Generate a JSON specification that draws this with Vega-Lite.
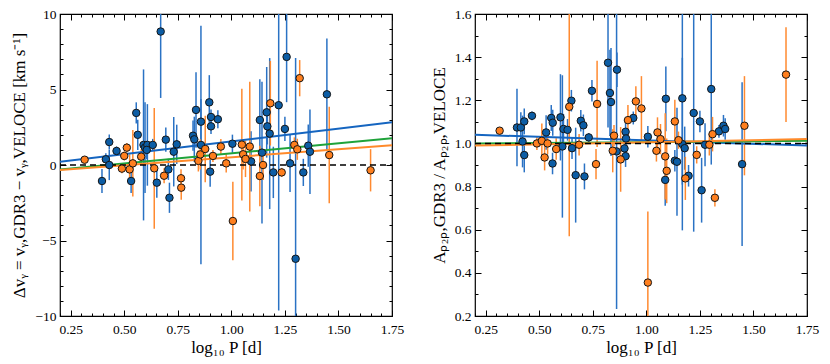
{
  "$schema": "https://vega.github.io/schema/vega-lite/v6.json",
  "padding": {"left": 10, "top": 6, "right": 5, "bottom": 5},
  "background": "white",
  "config": {
    "font": "Liberation Serif",
    "view": {"stroke": "black", "strokeWidth": 1.2},
    "axis": {
      "grid": false, "domain": false, "tickColor": "black", "tickWidth": 1,
      "labelColor": "black", "titleColor": "black",
      "labelFont": "Liberation Serif", "labelFontSize": 13.5,
      "titleFont": "Liberation Serif", "titleFontSize": 17, "titleFontWeight": "normal",
      "labelFlush": false, "labelOverlap": false
    }
  },
  "datasets": {
    "leftPts": [
      {"p":0.396,"v":-1.06,"lo":-1.86,"hi":-0.26,"g":"b"},
      {"p":0.414,"v":0.38,"lo":-0.02,"hi":0.78,"g":"b"},
      {"p":0.43,"v":1.52,"lo":1.02,"hi":2.02,"g":"b"},
      {"p":0.43,"v":0.0,"lo":-1.0,"hi":1.0,"g":"b"},
      {"p":0.464,"v":0.93,"lo":0.63,"hi":1.23,"g":"b"},
      {"p":0.532,"v":-1.06,"lo":-1.86,"hi":-0.26,"g":"b"},
      {"p":0.556,"v":3.45,"lo":2.75,"hi":4.15,"g":"b"},
      {"p":0.563,"v":2.0,"lo":1.0,"hi":3.0,"g":"b"},
      {"p":0.59,"v":1.33,"lo":-3.67,"hi":6.33,"g":"b"},
      {"p":0.597,"v":1.15,"lo":-1.85,"hi":4.15,"g":"b"},
      {"p":0.608,"v":1.33,"lo":-1.37,"hi":4.03,"g":"b"},
      {"p":0.605,"v":1.0,"lo":0.4,"hi":1.6,"g":"b"},
      {"p":0.633,"v":1.33,"lo":0.93,"hi":1.73,"g":"b"},
      {"p":0.652,"v":-1.17,"lo":-2.17,"hi":-0.17,"g":"b"},
      {"p":0.67,"v":8.84,"lo":4.44,"hi":13.24,"g":"b"},
      {"p":0.694,"v":1.68,"lo":0.88,"hi":2.48,"g":"b"},
      {"p":0.706,"v":-0.29,"lo":-0.99,"hi":0.41,"g":"b"},
      {"p":0.711,"v":-2.17,"lo":-3.17,"hi":-1.17,"g":"b"},
      {"p":0.731,"v":0.88,"lo":-1.42,"hi":3.18,"g":"b"},
      {"p":0.745,"v":1.37,"lo":0.07,"hi":2.67,"g":"b"},
      {"p":0.821,"v":1.94,"lo":0.94,"hi":2.94,"g":"b"},
      {"p":0.827,"v":1.7,"lo":0.2,"hi":3.2,"g":"b"},
      {"p":0.835,"v":3.65,"lo":1.15,"hi":6.15,"g":"b"},
      {"p":0.858,"v":2.87,"lo":1.37,"hi":4.37,"g":"b"},
      {"p":0.858,"v":1.33,"lo":-6.57,"hi":9.23,"g":"b"},
      {"p":0.897,"v":4.15,"lo":2.35,"hi":5.95,"g":"b"},
      {"p":0.905,"v":3.18,"lo":2.68,"hi":3.68,"g":"b"},
      {"p":0.905,"v":2.56,"lo":2.06,"hi":3.06,"g":"b"},
      {"p":0.901,"v":-0.44,"lo":-1.44,"hi":0.56,"g":"b"},
      {"p":0.937,"v":3.03,"lo":2.43,"hi":3.63,"g":"b"},
      {"p":1.005,"v":1.41,"lo":0.81,"hi":2.01,"g":"b"},
      {"p":1.092,"v":0.24,"lo":-1.76,"hi":2.24,"g":"b"},
      {"p":1.133,"v":2.98,"lo":0.28,"hi":5.68,"g":"b"},
      {"p":1.143,"v":0.82,"lo":-3.88,"hi":5.52,"g":"b"},
      {"p":1.165,"v":3.49,"lo":0.49,"hi":6.49,"g":"b"},
      {"p":1.168,"v":2.56,"lo":1.36,"hi":3.76,"g":"b"},
      {"p":1.179,"v":2.08,"lo":-2.92,"hi":7.08,"g":"b"},
      {"p":1.196,"v":-0.49,"lo":-2.19,"hi":1.21,"g":"b"},
      {"p":1.221,"v":3.96,"lo":-9.64,"hi":17.56,"g":"b"},
      {"p":1.25,"v":2.39,"lo":1.59,"hi":3.19,"g":"b"},
      {"p":1.258,"v":7.16,"lo":4.16,"hi":10.16,"g":"b"},
      {"p":1.274,"v":0.11,"lo":-1.79,"hi":2.01,"g":"b"},
      {"p":1.3,"v":-6.21,"lo":-19.51,"hi":7.09,"g":"b"},
      {"p":1.336,"v":-0.49,"lo":-1.39,"hi":0.41,"g":"b"},
      {"p":1.359,"v":1.28,"lo":-0.12,"hi":2.68,"g":"b"},
      {"p":1.367,"v":0.88,"lo":-1.92,"hi":3.68,"g":"b"},
      {"p":1.446,"v":4.68,"lo":0.98,"hi":8.38,"g":"b"},
      {"p":0.315,"v":0.35,"lo":0.25,"hi":0.45,"g":"o"},
      {"p":0.489,"v":-0.24,"lo":-0.54,"hi":0.06,"g":"o"},
      {"p":0.5,"v":0.6,"lo":0.3,"hi":0.9,"g":"o"},
      {"p":0.512,"v":1.15,"lo":0.85,"hi":1.45,"g":"o"},
      {"p":0.525,"v":-0.29,"lo":-1.29,"hi":0.71,"g":"o"},
      {"p":0.54,"v":0.11,"lo":-2.09,"hi":2.31,"g":"o"},
      {"p":0.579,"v":0.55,"lo":0.05,"hi":1.05,"g":"o"},
      {"p":0.64,"v":-0.22,"lo":-4.22,"hi":3.78,"g":"o"},
      {"p":0.686,"v":-0.71,"lo":-1.21,"hi":-0.21,"g":"o"},
      {"p":0.765,"v":-0.88,"lo":-1.48,"hi":-0.28,"g":"o"},
      {"p":0.766,"v":-1.5,"lo":-2.3,"hi":-0.7,"g":"o"},
      {"p":0.846,"v":0.27,"lo":-0.43,"hi":0.97,"g":"o"},
      {"p":0.855,"v":0.7,"lo":-0.3,"hi":1.7,"g":"o"},
      {"p":0.878,"v":1.06,"lo":-1.14,"hi":3.26,"g":"o"},
      {"p":0.914,"v":0.6,"lo":0.2,"hi":1.0,"g":"o"},
      {"p":0.951,"v":1.22,"lo":0.72,"hi":1.72,"g":"o"},
      {"p":0.976,"v":0.11,"lo":-0.49,"hi":0.71,"g":"o"},
      {"p":1.007,"v":-3.71,"lo":-6.31,"hi":-1.11,"g":"o"},
      {"p":1.049,"v":1.35,"lo":-2.35,"hi":5.05,"g":"o"},
      {"p":1.055,"v":0.71,"lo":-0.29,"hi":1.71,"g":"o"},
      {"p":1.066,"v":0.4,"lo":-0.8,"hi":1.6,"g":"o"},
      {"p":1.086,"v":1.22,"lo":-3.08,"hi":5.52,"g":"o"},
      {"p":1.133,"v":-0.73,"lo":-2.73,"hi":1.27,"g":"o"},
      {"p":1.148,"v":0.0,"lo":-1.0,"hi":1.0,"g":"o"},
      {"p":1.182,"v":4.09,"lo":1.29,"hi":6.89,"g":"o"},
      {"p":1.235,"v":-0.49,"lo":-0.79,"hi":-0.19,"g":"o"},
      {"p":1.294,"v":1.33,"lo":0.83,"hi":1.83,"g":"o"},
      {"p":1.308,"v":1.04,"lo":0.34,"hi":1.74,"g":"o"},
      {"p":1.319,"v":5.75,"lo":4.55,"hi":6.95,"g":"o"},
      {"p":1.457,"v":0.66,"lo":-2.54,"hi":3.86,"g":"o"},
      {"p":1.65,"v":-0.35,"lo":-1.75,"hi":1.05,"g":"o"}
    ],
    "rightPts": [
      {"p":0.396,"v":1.074,"lo":0.894,"hi":1.254,"g":"b"},
      {"p":0.414,"v":1.074,"lo":1.004,"hi":1.144,"g":"b"},
      {"p":0.422,"v":1.009,"lo":0.889,"hi":1.129,"g":"b"},
      {"p":0.43,"v":1.102,"lo":1.042,"hi":1.162,"g":"b"},
      {"p":0.43,"v":0.946,"lo":0.866,"hi":1.026,"g":"b"},
      {"p":0.466,"v":1.128,"lo":1.108,"hi":1.148,"g":"b"},
      {"p":0.532,"v":1.051,"lo":0.971,"hi":1.131,"g":"b"},
      {"p":0.556,"v":1.118,"lo":1.058,"hi":1.178,"g":"b"},
      {"p":0.563,"v":1.096,"lo":1.036,"hi":1.156,"g":"b"},
      {"p":0.562,"v":0.907,"lo":0.857,"hi":0.957,"g":"b"},
      {"p":0.599,"v":1.121,"lo":0.921,"hi":1.321,"g":"b"},
      {"p":0.608,"v":0.986,"lo":0.656,"hi":1.316,"g":"b"},
      {"p":0.613,"v":1.067,"lo":0.997,"hi":1.137,"g":"b"},
      {"p":0.632,"v":1.063,"lo":1.013,"hi":1.113,"g":"b"},
      {"p":0.65,"v":1.198,"lo":1.148,"hi":1.248,"g":"b"},
      {"p":0.653,"v":0.978,"lo":0.928,"hi":1.028,"g":"b"},
      {"p":0.67,"v":0.853,"lo":0.633,"hi":1.073,"g":"b"},
      {"p":0.694,"v":1.105,"lo":1.055,"hi":1.155,"g":"b"},
      {"p":0.706,"v":1.084,"lo":1.034,"hi":1.134,"g":"b"},
      {"p":0.711,"v":0.847,"lo":0.787,"hi":0.907,"g":"b"},
      {"p":0.731,"v":1.028,"lo":1.008,"hi":1.048,"g":"b"},
      {"p":0.746,"v":1.244,"lo":1.194,"hi":1.294,"g":"b"},
      {"p":0.821,"v":1.374,"lo":1.074,"hi":1.674,"g":"b"},
      {"p":0.83,"v":1.234,"lo":1.034,"hi":1.434,"g":"b"},
      {"p":0.835,"v":1.192,"lo":0.942,"hi":1.442,"g":"b"},
      {"p":0.863,"v":1.342,"lo":1.262,"hi":1.422,"g":"b"},
      {"p":0.861,"v":0.963,"lo":0.233,"hi":1.693,"g":"b"},
      {"p":0.898,"v":0.977,"lo":0.927,"hi":1.027,"g":"b"},
      {"p":0.903,"v":1.054,"lo":1.004,"hi":1.104,"g":"b"},
      {"p":0.905,"v":1.023,"lo":0.973,"hi":1.073,"g":"b"},
      {"p":0.903,"v":0.941,"lo":0.891,"hi":0.991,"g":"b"},
      {"p":0.939,"v":1.118,"lo":1.088,"hi":1.148,"g":"b"},
      {"p":1.007,"v":1.031,"lo":0.981,"hi":1.081,"g":"b"},
      {"p":1.091,"v":1.207,"lo":1.057,"hi":1.357,"g":"b"},
      {"p":1.088,"v":0.831,"lo":0.711,"hi":0.951,"g":"b"},
      {"p":1.133,"v":0.92,"lo":0.87,"hi":0.97,"g":"b"},
      {"p":1.143,"v":0.915,"lo":0.665,"hi":1.165,"g":"b"},
      {"p":1.168,"v":1.209,"lo":0.809,"hi":1.609,"g":"b"},
      {"p":1.168,"v":0.997,"lo":0.597,"hi":1.397,"g":"b"},
      {"p":1.179,"v":0.978,"lo":0.878,"hi":1.078,"g":"b"},
      {"p":1.197,"v":0.85,"lo":0.8,"hi":0.9,"g":"b"},
      {"p":1.221,"v":1.141,"lo":0.591,"hi":1.691,"g":"b"},
      {"p":1.25,"v":1.102,"lo":1.052,"hi":1.152,"g":"b"},
      {"p":1.258,"v":0.783,"lo":0.633,"hi":0.933,"g":"b"},
      {"p":1.274,"v":0.994,"lo":0.894,"hi":1.094,"g":"b"},
      {"p":1.303,"v":1.252,"lo":0.902,"hi":1.602,"g":"b"},
      {"p":1.339,"v":1.056,"lo":1.026,"hi":1.086,"g":"b"},
      {"p":1.36,"v":1.082,"lo":1.032,"hi":1.132,"g":"b"},
      {"p":1.368,"v":1.067,"lo":1.017,"hi":1.117,"g":"b"},
      {"p":1.447,"v":0.904,"lo":0.524,"hi":1.284,"g":"b"},
      {"p":0.315,"v":1.059,"lo":1.049,"hi":1.069,"g":"o"},
      {"p":0.489,"v":1.0,"lo":0.97,"hi":1.03,"g":"o"},
      {"p":0.512,"v":1.012,"lo":0.932,"hi":1.092,"g":"o"},
      {"p":0.525,"v":0.935,"lo":0.875,"hi":0.995,"g":"o"},
      {"p":0.539,"v":1.0,"lo":0.95,"hi":1.05,"g":"o"},
      {"p":0.579,"v":0.974,"lo":0.924,"hi":1.024,"g":"o"},
      {"p":0.64,"v":1.17,"lo":0.57,"hi":1.77,"g":"o"},
      {"p":0.686,"v":0.994,"lo":0.944,"hi":1.044,"g":"o"},
      {"p":0.765,"v":0.904,"lo":0.834,"hi":0.974,"g":"o"},
      {"p":0.77,"v":1.183,"lo":0.983,"hi":1.383,"g":"o"},
      {"p":0.843,"v":0.966,"lo":0.866,"hi":1.066,"g":"o"},
      {"p":0.849,"v":1.036,"lo":0.986,"hi":1.086,"g":"o"},
      {"p":0.88,"v":0.926,"lo":0.776,"hi":1.076,"g":"o"},
      {"p":0.914,"v":1.108,"lo":1.038,"hi":1.178,"g":"o"},
      {"p":0.951,"v":1.195,"lo":1.125,"hi":1.265,"g":"o"},
      {"p":0.977,"v":1.162,"lo":1.012,"hi":1.312,"g":"o"},
      {"p":1.007,"v":0.355,"lo":0.025,"hi":0.685,"g":"o"},
      {"p":1.047,"v":0.966,"lo":0.916,"hi":1.016,"g":"o"},
      {"p":1.052,"v":1.051,"lo":0.981,"hi":1.121,"g":"o"},
      {"p":1.066,"v":1.02,"lo":0.95,"hi":1.09,"g":"o"},
      {"p":1.088,"v":0.94,"lo":0.74,"hi":1.14,"g":"o"},
      {"p":1.095,"v":0.873,"lo":0.723,"hi":1.023,"g":"o"},
      {"p":1.133,"v":1.102,"lo":1.002,"hi":1.202,"g":"o"},
      {"p":1.15,"v":1.015,"lo":0.975,"hi":1.055,"g":"o"},
      {"p":1.182,"v":0.838,"lo":0.738,"hi":0.938,"g":"o"},
      {"p":1.235,"v":0.947,"lo":0.907,"hi":0.987,"g":"o"},
      {"p":1.294,"v":0.994,"lo":0.944,"hi":1.044,"g":"o"},
      {"p":1.309,"v":1.043,"lo":0.963,"hi":1.123,"g":"o"},
      {"p":1.32,"v":0.748,"lo":0.708,"hi":0.788,"g":"o"},
      {"p":1.458,"v":1.082,"lo":0.852,"hi":1.312,"g":"o"},
      {"p":1.652,"v":1.319,"lo":1.099,"hi":1.539,"g":"o"}
    ],
    "fitL": [
      {"p":0.2,"y":0.22,"g":"b"},{"p":1.75,"y":2.83,"g":"b"},
      {"p":0.2,"y":-0.3,"g":"g"},{"p":1.75,"y":1.77,"g":"g"},
      {"p":0.2,"y":-0.33,"g":"o"},{"p":1.75,"y":1.3,"g":"o"}
    ],
    "fitR": [
      {"p":0.2,"y":1.04,"g":"b"},{"p":1.75,"y":0.99,"g":"b"},
      {"p":0.2,"y":1.0,"g":"g"},{"p":1.75,"y":1.012,"g":"g"},
      {"p":0.2,"y":0.99,"g":"o"},{"p":1.75,"y":1.02,"g":"o"}
    ]
  },
  "spacing": 83,
  "bounds": "flush",
  "hconcat": [
    {
      "width": 332, "height": 302,
      "resolve": {"axis": {"x": "independent", "y": "independent"}},
      "layer": [
        {
          "data": {"name": "leftPts"},
          "mark": {"type": "rule", "clip": true, "strokeWidth": 1.5},
          "encoding": {
            "x": {"field": "p", "type": "quantitative", "scale": {"domain": [0.2, 1.75], "nice": false, "zero": false},
                  "axis": {"orient": "bottom", "values": [0.25,0.5,0.75,1,1.25,1.5,1.75], "format": ".2f", "tickSize": -6, "labelPadding": 12, "title": "log₁₀ P [d]", "titlePadding": 4}},
            "y": {"field": "lo", "type": "quantitative", "scale": {"domain": [-10, 10], "nice": false, "zero": false},
                  "axis": {"orient": "left", "values": [-10,-5,0,5,10], "tickSize": -6, "labelPadding": 10, "title": "Δvᵧ = vᵧ,GDR3 − vᵧ,VELOCE [km s⁻¹]", "titlePadding": 6}},
            "y2": {"field": "hi"},
            "stroke": {"field": "g", "type": "nominal", "scale": {"domain": ["b","o"], "range": ["#2A72C4", "#FF8A30"]}, "legend": null}
          }
        },
        {
          "data": {"name": "fitL"},
          "mark": {"type": "line", "clip": true, "strokeWidth": 2},
          "encoding": {
            "x": {"field": "p", "type": "quantitative", "axis": {"orient": "top", "values": [0.25,0.5,0.75,1,1.25,1.5,1.75], "labels": false, "tickSize": -6, "title": null}},
            "y": {"field": "y", "type": "quantitative", "axis": {"orient": "right", "values": [-10,-5,0,5,10], "labels": false, "tickSize": -6, "title": null}},
            "color": {"field": "g", "type": "nominal", "scale": {"domain": ["b","g","o"], "range": ["#1565C0", "#1FA33A", "#FF8A2A"]}, "legend": null}
          }
        },
        {
          "data": {"values": [{}]},
          "mark": {"type": "rule", "strokeDash": [6, 4], "color": "black", "strokeWidth": 1.5},
          "encoding": {
            "x": {"datum": 0.2, "type": "quantitative", "axis": {"orient": "bottom", "values": [0.2,0.3,0.35,0.4,0.45,0.55,0.6,0.65,0.7,0.8,0.85,0.9,0.95,1.05,1.1,1.15,1.2,1.3,1.35,1.4,1.45,1.55,1.6,1.65,1.7], "labels": false, "tickSize": -3, "title": null}},
            "x2": {"datum": 1.75},
            "y": {"datum": 0, "type": "quantitative", "axis": {"orient": "left", "values": [-9,-8,-7,-6,-4,-3,-2,-1,1,2,3,4,6,7,8,9], "labels": false, "tickSize": -3, "title": null}}
          }
        },
        {
          "data": {"name": "leftPts"},
          "mark": {"type": "circle", "size": 56, "stroke": "#151515", "strokeWidth": 1, "opacity": 1},
          "encoding": {
            "x": {"field": "p", "type": "quantitative", "axis": {"orient": "top", "values": [0.2,0.3,0.35,0.4,0.45,0.55,0.6,0.65,0.7,0.8,0.85,0.9,0.95,1.05,1.1,1.15,1.2,1.3,1.35,1.4,1.45,1.55,1.6,1.65,1.7], "labels": false, "tickSize": -3, "title": null}},
            "y": {"field": "v", "type": "quantitative", "axis": {"orient": "right", "values": [-9,-8,-7,-6,-4,-3,-2,-1,1,2,3,4,6,7,8,9], "labels": false, "tickSize": -3, "title": null}},
            "fill": {"field": "g", "type": "nominal", "scale": {"domain": ["b","o"], "range": ["#0C5DA5", "#FF7F1E"]}, "legend": null}
          }
        }
      ]
    },
    {
      "width": 332, "height": 302,
      "resolve": {"axis": {"x": "independent", "y": "independent"}},
      "layer": [
        {
          "data": {"name": "rightPts"},
          "mark": {"type": "rule", "clip": true, "strokeWidth": 1.5},
          "encoding": {
            "x": {"field": "p", "type": "quantitative", "scale": {"domain": [0.2, 1.75], "nice": false, "zero": false},
                  "axis": {"orient": "bottom", "values": [0.25,0.5,0.75,1,1.25,1.5,1.75], "format": ".2f", "tickSize": -6, "labelPadding": 12, "title": "log₁₀ P [d]", "titlePadding": 4}},
            "y": {"field": "lo", "type": "quantitative", "scale": {"domain": [0.2, 1.6], "nice": false, "zero": false},
                  "axis": {"orient": "left", "values": [0.2,0.4,0.6,0.8,1.0,1.2,1.4,1.6], "format": ".1f", "tickSize": -6, "labelPadding": 10, "title": "Aₚ₂ₚ,GDR3 / Aₚ₂ₚ,VELOCE", "titlePadding": 6}},
            "y2": {"field": "hi"},
            "stroke": {"field": "g", "type": "nominal", "scale": {"domain": ["b","o"], "range": ["#2A72C4", "#FF8A30"]}, "legend": null}
          }
        },
        {
          "data": {"name": "fitR"},
          "mark": {"type": "line", "clip": true, "strokeWidth": 2},
          "encoding": {
            "x": {"field": "p", "type": "quantitative", "axis": {"orient": "top", "values": [0.25,0.5,0.75,1,1.25,1.5,1.75], "labels": false, "tickSize": -6, "title": null}},
            "y": {"field": "y", "type": "quantitative", "axis": {"orient": "right", "values": [0.2,0.4,0.6,0.8,1.0,1.2,1.4,1.6], "labels": false, "tickSize": -6, "title": null}},
            "color": {"field": "g", "type": "nominal", "scale": {"domain": ["b","g","o"], "range": ["#1565C0", "#1FA33A", "#FF8A2A"]}, "legend": null}
          }
        },
        {
          "data": {"values": [{}]},
          "mark": {"type": "rule", "strokeDash": [6, 4], "color": "black", "strokeWidth": 1.5},
          "encoding": {
            "x": {"datum": 0.2, "type": "quantitative", "axis": {"orient": "bottom", "values": [0.2,0.3,0.35,0.4,0.45,0.55,0.6,0.65,0.7,0.8,0.85,0.9,0.95,1.05,1.1,1.15,1.2,1.3,1.35,1.4,1.45,1.55,1.6,1.65,1.7], "labels": false, "tickSize": -3, "title": null}},
            "x2": {"datum": 1.75},
            "y": {"datum": 1, "type": "quantitative", "axis": {"orient": "left", "values": [0.3,0.5,0.7,0.9,1.1,1.3,1.5], "labels": false, "tickSize": -3, "title": null}}
          }
        },
        {
          "data": {"name": "rightPts"},
          "mark": {"type": "circle", "size": 56, "stroke": "#151515", "strokeWidth": 1, "opacity": 1},
          "encoding": {
            "x": {"field": "p", "type": "quantitative", "axis": {"orient": "top", "values": [0.2,0.3,0.35,0.4,0.45,0.55,0.6,0.65,0.7,0.8,0.85,0.9,0.95,1.05,1.1,1.15,1.2,1.3,1.35,1.4,1.45,1.55,1.6,1.65,1.7], "labels": false, "tickSize": -3, "title": null}},
            "y": {"field": "v", "type": "quantitative", "axis": {"orient": "right", "values": [0.3,0.5,0.7,0.9,1.1,1.3,1.5], "labels": false, "tickSize": -3, "title": null}},
            "fill": {"field": "g", "type": "nominal", "scale": {"domain": ["b","o"], "range": ["#0C5DA5", "#FF7F1E"]}, "legend": null}
          }
        }
      ]
    }
  ]
}
